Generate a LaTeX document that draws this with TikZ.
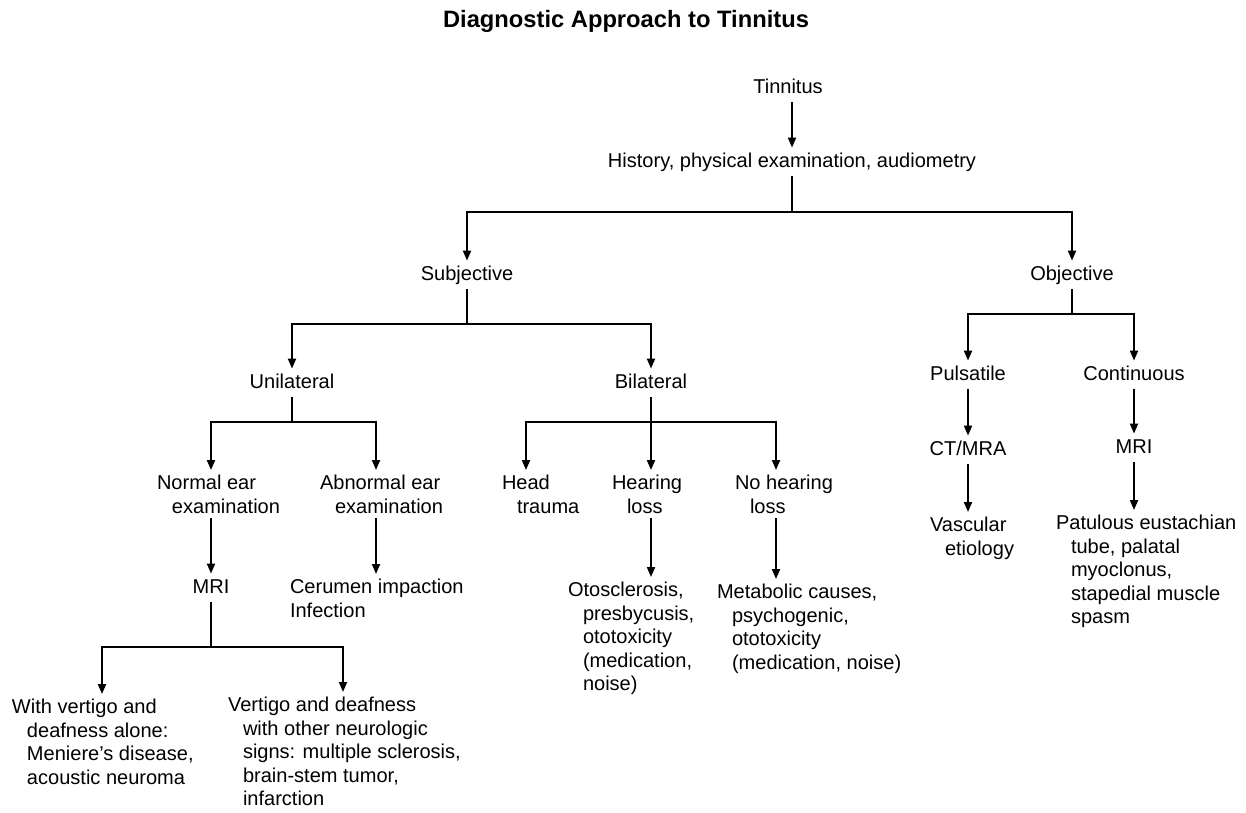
\documentclass[tikz,border=0pt]{standalone}
\usepackage{fontspec}
\setmainfont{Liberation Sans}
\usetikzlibrary{arrows.meta}
\newcommand{\tind}{\hspace*{0.3cm}}

\begin{document}
\begin{tikzpicture}[
      x=0.02cm, y=-0.02cm,
      lbl/.style={inner sep=0.1cm, outer sep=0pt, font=\fontsize{11.4}{13.4}\selectfont,
                  text height=8.3pt, text depth=2.4pt},
      multi/.style={inner sep=0.1cm, outer sep=0pt, anchor=north west, align=left,
                  font=\fontsize{11.4}{13.4}\selectfont},
      arr/.style={-{Triangle[length=2mm, width=1.6mm]}, line width=1.1pt}
    ]
      \useasboundingbox (0,0) rectangle (1246,812);
      \node[font=\bfseries\fontsize{13.5}{16}\selectfont] (title) at (626,21) {Diagnostic Approach to Tinnitus};

      % top of the tree
      \node[lbl] (tinnitus) at (788,88) {Tinnitus};
      \node[lbl] (history) at (792,162) {History, physical examination, audiometry};
      \node[lbl] (subj) at (467,275) {Subjective};
      \node[lbl] (obj) at (1072,275) {Objective};

      % subjective branch
      \node[lbl] (unil) at (292,383) {Unilateral};
      \node[lbl] (bil) at (651,383) {Bilateral};
      \node[multi] (normal) at (152,470) {Normal ear\\\tind examination};
      \node[multi] (abnormal) at (315,470) {Abnormal ear\\\tind examination};
      \node[lbl] (mriL) at (211,588) {MRI};
      \node[multi] (cerumen) at (285,574) {Cerumen impaction\\Infection};
      \node[multi] (withv) at (7,694) {With vertigo and\\\tind deafness alone:\\\tind Meniere's disease,\\\tind acoustic neuroma};
      \node[multi] (vertd) at (223,692) {Vertigo and deafness\\\tind with other neurologic\\\tind signs: multiple sclerosis,\\\tind brain-stem tumor,\\\tind infarction};
      \node[multi] (head) at (497,470) {Head\\\tind trauma};
      \node[multi] (hearing) at (607,470) {Hearing\\\tind loss};
      \node[multi] (nohear) at (730,470) {No hearing\\\tind loss};
      \node[multi] (otos) at (563,577) {Otosclerosis,\\\tind presbycusis,\\\tind ototoxicity\\\tind (medication,\\\tind noise)};
      \node[multi] (metab) at (712,579) {Metabolic causes,\\\tind psychogenic,\\\tind ototoxicity\\\tind (medication, noise)};

      % objective branch
      \node[lbl] (puls) at (968,375) {Pulsatile};
      \node[lbl] (cont) at (1134,375) {Continuous};
      \node[lbl] (ctmra) at (968,450) {CT/MRA};
      \node[lbl] (mriR) at (1134,448) {MRI};
      \node[multi] (vasc) at (925,512) {Vascular\\\tind etiology};
      \node[multi] (patul) at (1051,510) {Patulous eustachian\\\tind tube, palatal\\\tind myoclonus,\\\tind stapedial muscle\\\tind spasm};

      % branching points
      \coordinate (b0) at (792,212);
      \coordinate (b1) at (467,324);
      \coordinate (b2) at (292,422);
      \coordinate (b3) at (211,647);
      \coordinate (b4) at (651,422);
      \coordinate (b5) at (1072,314);
      \coordinate (xab) at (376,0);
      \coordinate (xwv) at (102,0);
      \coordinate (xvd) at (343,0);
      \coordinate (xhd) at (526,0);
      \coordinate (xnh) at (776,0);

      \draw[arr] (history |- tinnitus.south) -- (history);
      \draw[arr] (history) -- (b0) -| (subj);
      \draw[arr] (b0) -| (obj);
      \draw[arr] (subj) -- (b1) -| (unil);
      \draw[arr] (b1) -| (bil);
      \draw[arr] (unil) -- (b2) -| (mriL |- normal.north);
      \draw[arr] (b2) -| (xab |- abnormal.north);
      \draw[arr] (mriL |- normal.south) -- (mriL);
      \draw[arr] (xab |- abnormal.south) -- (xab |- cerumen.north);
      \draw[arr] (mriL) -- (b3) -| (xwv |- withv.north);
      \draw[arr] (b3) -| (xvd |- vertd.north);
      \draw[arr] (bil) -- (b4) -| (xhd |- head.north);
      \draw[arr] (b4) -- (b4 |- hearing.north);
      \draw[arr] (b4) -| (xnh |- nohear.north);
      \draw[arr] (b4 |- hearing.south) -- (b4 |- otos.north);
      \draw[arr] (xnh |- nohear.south) -- (xnh |- metab.north);
      \draw[arr] (obj) -- (b5) -| (puls);
      \draw[arr] (b5) -| (cont);
      \draw[arr] (puls) -- (ctmra);
      \draw[arr] (ctmra) -- (ctmra |- vasc.north);
      \draw[arr] (cont) -- (mriR);
      \draw[arr] (mriR) -- (mriR |- patul.north);
    \end{tikzpicture}
\end{document}
